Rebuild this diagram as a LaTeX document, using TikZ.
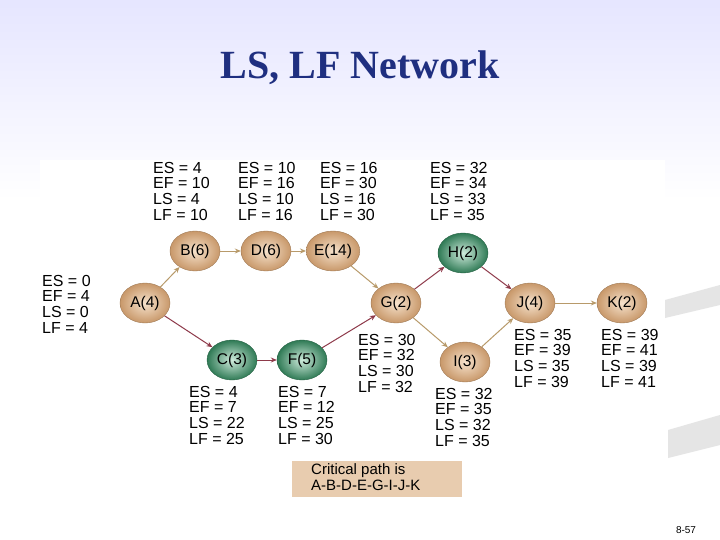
\documentclass[tikz,border=0pt]{standalone}
\usepackage{fontspec}
\setmainfont{Liberation Serif}
\newfontfamily\lsans{Liberation Sans}
\usetikzlibrary{shapes.geometric,arrows.meta}
\definecolor{tanout}{HTML}{C8986A}
\definecolor{tanin}{HTML}{F6E2CC}
\definecolor{grout}{HTML}{2F7A55}
\definecolor{grin}{HTML}{CFEBDC}
\definecolor{tanarr}{HTML}{B89A6A}
\definecolor{marr}{HTML}{8E3A4A}
\definecolor{titleblue}{HTML}{1F2F80}
\tikzset{
  act/.style={ellipse,minimum width=50pt,minimum height=40pt,inner sep=0pt,
    inner color=tanin,outer color=tanout,draw=tanout!80!black,line width=0.4pt,font=\lsans\fontsize{15.5}{15.5}\selectfont},
  gact/.style={act,inner color=grin,outer color=grout,draw=grout!80!black},
  info/.style={anchor=north west,align=left,inner sep=0pt,font=\lsans\fontsize{16}{15.6}\selectfont},
  tarr/.style={draw=tanarr,line width=1pt,-{Stealth[length=6pt,width=5pt]}},
  marr/.style={draw=marr,line width=1pt,-{Stealth[length=6pt,width=5pt]}}
}
\begin{document}
\begin{tikzpicture}[x=1pt,y=-1pt]
\useasboundingbox (0,0) rectangle (720,540);
\shade[top color=blue!10!white,bottom color=white] (0,0) rectangle (720,200);
\fill[white] (0,200) rectangle (720,540);
\fill[gray!20] (665,300) -- (720,285) -- (720,305) -- (665,318) -- cycle;
\fill[gray!20] (668,430) -- (720,415) -- (720,445) -- (668,458) -- cycle;
\fill[white] (40,160) rectangle (665,500);
\node[font=\bfseries\fontsize{40}{40}\selectfont,text=titleblue] (title) at (360,68) {LS, LF Network};
\node[font=\lsans\fontsize{10}{10}\selectfont] (pg) at (686,530) {8-57};

\node[act] (A) at (145,303) {A(4)};
\node[act] (B) at (195,251) {B(6)};
\node[act] (D) at (266,251) {D(6)};
\node[act] (E) at (333,251) {E(14)};
\node[gact] (H) at (463,253) {H(2)};
\node[act] (G) at (396,303) {G(2)};
\node[act] (J) at (530,303) {J(4)};
\node[act] (K) at (622,303) {K(2)};
\node[gact] (C) at (232,360) {C(3)};
\node[gact] (F) at (302,360) {F(5)};
\node[act] (I) at (465,362) {I(3)};

\draw[tarr] (A) -- (B);
\draw[tarr] (B) -- (D);
\draw[tarr] (D) -- (E);
\draw[tarr] (E) -- (G);
\draw[tarr] (G) -- (I);
\draw[tarr] (I) -- (J);
\draw[tarr] (J) -- (K);
\draw[marr] (A) -- (C);
\draw[marr] (C) -- (F);
\draw[marr] (F) -- (G);
\draw[marr] (G) -- (H);
\draw[marr] (H) -- (J);

\node[info] (tA) at (42,275) {ES = 0\\EF = 4\\LS = 0\\LF = 4};
\node[info] (tB) at (153,162) {ES = 4\\EF = 10\\LS = 4\\LF = 10};
\node[info] (tD) at (238,162) {ES = 10\\EF = 16\\LS = 10\\LF = 16};
\node[info] (tE) at (320,162) {ES = 16\\EF = 30\\LS = 16\\LF = 30};
\node[info] (tH) at (430,162) {ES = 32\\EF = 34\\LS = 33\\LF = 35};
\node[info] (tG) at (358,334) {ES = 30\\EF = 32\\LS = 30\\LF = 32};
\node[info] (tC) at (189,386) {ES = 4\\EF = 7\\LS = 22\\LF = 25};
\node[info] (tF) at (278,386) {ES = 7\\EF = 12\\LS = 25\\LF = 30};
\node[info] (tI) at (435,388) {ES = 32\\EF = 35\\LS = 32\\LF = 35};
\node[info] (tJ) at (514,329) {ES = 35\\EF = 39\\LS = 35\\LF = 39};
\node[info] (tK) at (601,329) {ES = 39\\EF = 41\\LS = 39\\LF = 41};

\node[fill=tanin!70!tanout,minimum width=170pt,minimum height=36pt,anchor=north west,inner sep=0pt] (cp) at (292,461) {};
\node[anchor=north west,align=left,inner sep=0pt,font=\lsans\fontsize{15}{16}\selectfont] (cpt) at (311,463) {Critical path is\\A-B-D-E-G-I-J-K};
\end{tikzpicture}
\end{document}
